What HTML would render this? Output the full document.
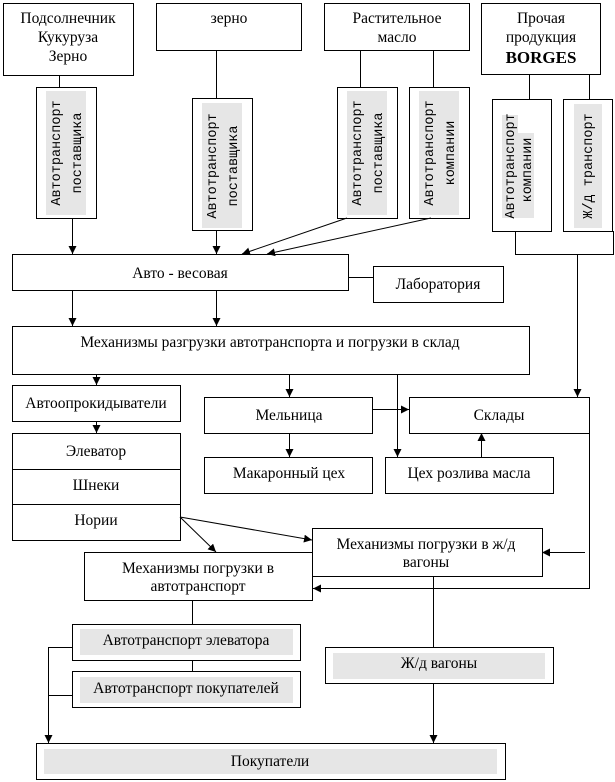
<!DOCTYPE html>
<html><head><meta charset="utf-8"><style>
html,body{margin:0;padding:0;background:#fff;}
svg{display:block;}
text{font-family:"Liberation Serif",serif;font-size:15.5px;fill:#000;}
.m{font-family:"Liberation Mono",monospace;font-size:13.5px;}
</style></head><body>
<svg width="615" height="782" viewBox="0 0 615 782" xmlns="http://www.w3.org/2000/svg">
<defs>
<marker id="a" viewBox="0 0 10 10" refX="10" refY="5" markerWidth="8" markerHeight="8" markerUnits="userSpaceOnUse" orient="auto">
<path d="M0,0 L10,5 L0,10 z" fill="#000"/></marker>
</defs>
<g fill="#fff" stroke="#000" stroke-width="1">
<rect x="3.5" y="3.5" width="130" height="72"/>
<rect x="156.5" y="3.5" width="145" height="47"/>
<rect x="324.5" y="3.5" width="145" height="47"/>
<rect x="481.5" y="3.5" width="119" height="71"/>
<rect x="36.5" y="87.5" width="60" height="131"/>
<rect x="192.5" y="98.5" width="60" height="132"/>
<rect x="337.5" y="87.5" width="60" height="131"/>
<rect x="409.5" y="87.5" width="60" height="131"/>
<rect x="492.5" y="99.5" width="59" height="132"/>
<rect x="563.5" y="99.5" width="49" height="132"/>
<rect x="12.5" y="254.5" width="336" height="36"/>
<rect x="373.5" y="266.5" width="130" height="36"/>
<rect x="12.5" y="326.5" width="517" height="48"/>
<rect x="12.5" y="385.5" width="168" height="36"/>
<rect x="12.5" y="433.5" width="168" height="107"/>
<rect x="204.5" y="397.5" width="168" height="36"/>
<rect x="409.5" y="397.5" width="180" height="36"/>
<rect x="204.5" y="457.5" width="168" height="36"/>
<rect x="385.5" y="457.5" width="168" height="36"/>
<rect x="84.5" y="552.5" width="228" height="48"/>
<rect x="312.5" y="528.5" width="230" height="48"/>
<rect x="72.5" y="624.5" width="228" height="36"/>
<rect x="72.5" y="671.5" width="228" height="36"/>
<rect x="325.5" y="647.5" width="228" height="36"/>
<rect x="36.5" y="743.5" width="469" height="36"/>
</g>
<g fill="#e6e6e6">
<rect x="46" y="91" width="40" height="124"/>
<rect x="202" y="103" width="40" height="125"/>
<rect x="347" y="91" width="40" height="124"/>
<rect x="419" y="91" width="40" height="124"/>
<rect x="502" y="115" width="16" height="103"/>
<rect x="518" y="133" width="16" height="85"/>
<rect x="574" y="104" width="28" height="124"/>
<rect x="80" y="629" width="213" height="26"/>
<rect x="80" y="677" width="213" height="26"/>
<rect x="333" y="653" width="212" height="26"/>
<rect x="44" y="749" width="453" height="25"/>
</g>
<g stroke="#000" stroke-width="1" fill="none">
<line x1="433.5" y1="50" x2="433.5" y2="87"/>
<line x1="59.5" y1="75" x2="59.5" y2="87"/>
<line x1="216.5" y1="50" x2="216.5" y2="98"/>
<line x1="360.5" y1="50" x2="360.5" y2="87"/>
<line x1="529.5" y1="75" x2="529.5" y2="99"/>
<line x1="589.5" y1="75" x2="589.5" y2="99"/>
<line x1="72.5" y1="218" x2="72.5" y2="254" marker-end="url(#a)"/>
<line x1="216.5" y1="230" x2="216.5" y2="254" marker-end="url(#a)"/>
<line x1="347" y1="218" x2="242" y2="254" marker-end="url(#a)"/>
<line x1="431" y1="218" x2="267" y2="254" marker-end="url(#a)"/>
<polyline points="515.5,231 515.5,254.5 613.5,254.5 613.5,231"/>
<line x1="577.5" y1="254" x2="577.5" y2="397" marker-end="url(#a)"/>
<line x1="348" y1="277.5" x2="373" y2="277.5"/>
<line x1="72.5" y1="290" x2="72.5" y2="326" marker-end="url(#a)"/>
<line x1="216.5" y1="290" x2="216.5" y2="326" marker-end="url(#a)"/>
<line x1="96.5" y1="374" x2="96.5" y2="385" marker-end="url(#a)"/>
<line x1="96.5" y1="421" x2="96.5" y2="433" marker-end="url(#a)"/>
<line x1="12" y1="469.5" x2="180" y2="469.5"/>
<line x1="12" y1="504.5" x2="180" y2="504.5"/>
<line x1="289.5" y1="374" x2="289.5" y2="397" marker-end="url(#a)"/>
<line x1="289.5" y1="433" x2="289.5" y2="457" marker-end="url(#a)"/>
<line x1="372" y1="409.5" x2="409" y2="409.5" marker-end="url(#a)"/>
<line x1="397.5" y1="374" x2="397.5" y2="457" marker-end="url(#a)"/>
<line x1="481.5" y1="457" x2="481.5" y2="433" marker-end="url(#a)"/>
<line x1="180" y1="517" x2="216" y2="552" marker-end="url(#a)"/>
<line x1="180" y1="517" x2="312" y2="540" marker-end="url(#a)"/>
<line x1="585" y1="552.5" x2="542" y2="552.5" marker-end="url(#a)"/>
<polyline points="589.5,433 589.5,588.5 313,588.5" marker-end="url(#a)"/>
<line x1="192.5" y1="600" x2="192.5" y2="624"/>
<line x1="192.5" y1="660" x2="192.5" y2="671"/>
<polyline points="72,647.5 48.5,647.5 48.5,743" marker-end="url(#a)"/>
<line x1="48" y1="695.5" x2="72" y2="695.5"/>
<line x1="433.5" y1="576" x2="433.5" y2="647"/>
<line x1="433.5" y1="683" x2="433.5" y2="743" marker-end="url(#a)"/>
</g>
<g text-anchor="middle">
<text x="68" y="23">Подсолнечник</text>
<text x="68" y="42">Кукуруза</text>
<text x="68" y="61">Зерно</text>
<text x="229" y="23">зерно</text>
<text x="397" y="23">Растительное</text>
<text x="397" y="42">масло</text>
<text x="541" y="23">Прочая</text>
<text x="541" y="42">продукция</text>
<text x="541" y="63" style="font-size:17px;font-weight:bold">BORGES</text>
<text x="180" y="278">Авто - весовая</text>
<text x="438" y="289">Лаборатория</text>
<text x="270" y="347">Механизмы разгрузки автотранспорта и погрузки в склад</text>
<text x="96" y="408">Автоопрокидыватели</text>
<text x="96" y="456">Элеватор</text>
<text x="96" y="490">Шнеки</text>
<text x="96" y="525">Нории</text>
<text x="289" y="420">Мельница</text>
<text x="499" y="420">Склады</text>
<text x="289" y="478">Макаронный цех</text>
<text x="469" y="478">Цех розлива масла</text>
<text x="426" y="549">Механизмы погрузки в ж/д</text>
<text x="426" y="567">вагоны</text>
<text x="198" y="573">Механизмы погрузки в</text>
<text x="198" y="591">автотранспорт</text>
<text x="186" y="645">Автотранспорт элеватора</text>
<text x="186" y="693">Автотранспорт покупателей</text>
<text x="439" y="668">Ж/д вагоны</text>
<text x="270" y="766">Покупатели</text>
</g>
<g text-anchor="middle" class="m">
<text class="m" transform="translate(60,153) rotate(-90)">Автотранспорт</text>
<text class="m" transform="translate(81,153) rotate(-90)">поставщика</text>
<text class="m" transform="translate(216,166) rotate(-90)">Автотранспорт</text>
<text class="m" transform="translate(237,166) rotate(-90)">поставщика</text>
<text class="m" transform="translate(361,153) rotate(-90)">Автотранспорт</text>
<text class="m" transform="translate(382,153) rotate(-90)">поставщика</text>
<text class="m" transform="translate(433,153) rotate(-90)">Автотранспорт</text>
<text class="m" transform="translate(454,153) rotate(-90)">компании</text>
<text class="m" transform="translate(514,166) rotate(-90)">Автотранспорт</text>
<text class="m" transform="translate(531,170) rotate(-90)">компании</text>
<text class="m" transform="translate(592,166) rotate(-90)">Ж/д транспорт</text>
</g>
</svg>
</body></html>
